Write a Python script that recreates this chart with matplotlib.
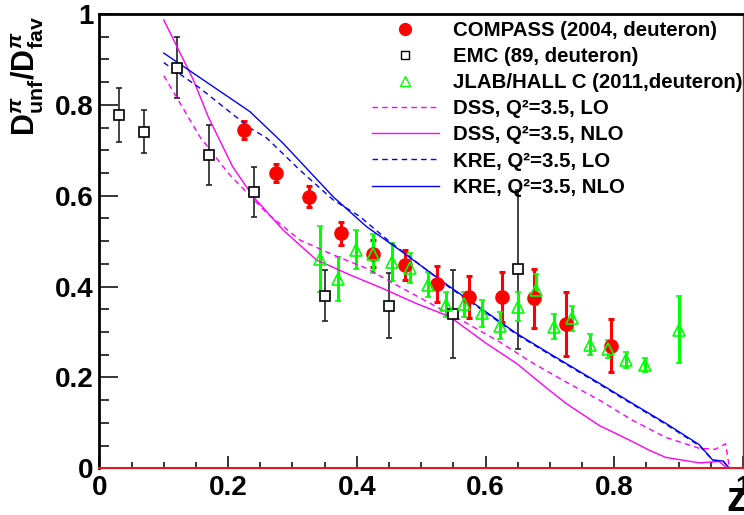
import matplotlib
matplotlib.use('Agg')
import matplotlib.pyplot as plt
from matplotlib.lines import Line2D
from matplotlib.ticker import MultipleLocator, FixedLocator

plt.rcParams['font.family'] = ['Liberation Sans', 'DejaVu Sans']
plt.rcParams['font.weight'] = 'bold'
plt.rcParams['mathtext.fontset'] = 'custom'
plt.rcParams['mathtext.rm'] = 'Liberation Sans:bold'
plt.rcParams['mathtext.bf'] = 'Liberation Sans:bold'
plt.rcParams['mathtext.it'] = 'Liberation Sans:bold:italic'

# data
compass_z = [0.225, 0.275, 0.325, 0.375, 0.425, 0.475, 0.525, 0.575, 0.625, 0.675, 0.725, 0.795]
compass_r = [0.745, 0.650, 0.598, 0.517, 0.472, 0.448, 0.405, 0.377, 0.376, 0.374, 0.318, 0.270]
compass_e = [0.020, 0.020, 0.023, 0.025, 0.030, 0.033, 0.040, 0.047, 0.055, 0.065, 0.070, 0.059]

emc_z = [0.03, 0.07, 0.12, 0.17, 0.24, 0.35, 0.45, 0.55, 0.65]
emc_r = [0.778, 0.741, 0.882, 0.690, 0.608, 0.380, 0.358, 0.339, 0.438]
emc_e = [0.060, 0.047, 0.068, 0.066, 0.055, 0.056, 0.072, 0.097, 0.175]

jlab_z = [0.342, 0.370, 0.398, 0.425, 0.454, 0.482, 0.510, 0.538, 0.566, 0.594,
          0.623, 0.650, 0.679, 0.707, 0.734, 0.762, 0.791, 0.818, 0.847, 0.901]
jlab_r = [0.461, 0.417, 0.481, 0.472, 0.455, 0.440, 0.404, 0.360, 0.361, 0.341,
          0.314, 0.356, 0.393, 0.312, 0.330, 0.272, 0.262, 0.238, 0.227, 0.305]
jlab_e = [0.072, 0.048, 0.043, 0.043, 0.042, 0.033, 0.028, 0.027, 0.028, 0.030,
          0.029, 0.032, 0.034, 0.028, 0.027, 0.023, 0.020, 0.018, 0.016, 0.074]

dss_lo_z = [0.100, 0.104, 0.156, 0.200, 0.234, 0.260, 0.311, 0.363, 0.415, 0.466, 0.518,
            0.570, 0.622, 0.673, 0.725, 0.777, 0.828, 0.880, 0.932, 0.957, 0.973, 0.979, 1.0]
dss_lo_r = [0.864, 0.855, 0.730, 0.650, 0.600, 0.562, 0.503, 0.470, 0.440, 0.400, 0.360,
            0.320, 0.278, 0.232, 0.190, 0.150, 0.106, 0.068, 0.044, 0.042, 0.054, 0.0, 0.0]

dss_nlo_z = [0.100, 0.146, 0.169, 0.207, 0.239, 0.285, 0.337, 0.389, 0.440, 0.492, 0.544,
             0.601, 0.648, 0.699, 0.725, 0.777, 0.828, 0.854, 0.880, 0.932, 0.963, 0.976, 1.0]
dss_nlo_r = [0.987, 0.855, 0.774, 0.664, 0.598, 0.525, 0.459, 0.426, 0.396, 0.363, 0.334,
             0.275, 0.231, 0.172, 0.143, 0.094, 0.059, 0.040, 0.024, 0.012, 0.015, 0.0, 0.0]

kre_lo_z = [0.100, 0.156, 0.234, 0.260, 0.311, 0.363, 0.404, 0.450, 0.544, 0.596, 0.648,
            0.699, 0.777, 0.828, 0.880, 0.932, 0.953, 0.969, 0.979, 1.0]
kre_lo_r = [0.893, 0.837, 0.749, 0.727, 0.657, 0.591, 0.555, 0.500, 0.398, 0.347, 0.295,
            0.251, 0.185, 0.141, 0.097, 0.050, 0.018, 0.016, 0.0, 0.0]

kre_nlo_z = [0.100, 0.207, 0.234, 0.285, 0.363, 0.415, 0.466, 0.544, 0.596, 0.648, 0.699,
             0.777, 0.828, 0.880, 0.932, 0.953, 0.969, 0.979, 1.0]
kre_nlo_r = [0.914, 0.811, 0.785, 0.716, 0.598, 0.532, 0.481, 0.400, 0.349, 0.297, 0.253,
             0.187, 0.143, 0.099, 0.052, 0.018, 0.016, 0.0, 0.0]

fig = plt.figure(figsize=(7.44, 5.15), dpi=100)
ax = fig.add_axes([99.4 / 744, 46.7 / 515, 643.6 / 744, 454.3 / 515])

ax.errorbar(compass_z, compass_r, yerr=compass_e, fmt='o', color='red', ms=9.5,
            elinewidth=2.2, capsize=2.5, capthick=2.2)
ax.errorbar(emc_z, emc_r, yerr=emc_e, fmt='s', mfc='white', mec='black', mew=1.2,
            ms=6.5, color='#222222', elinewidth=1.2, capsize=2.2, capthick=1.2)
ax.errorbar(jlab_z, jlab_r, yerr=jlab_e, fmt='^', mfc='none', mec='#00ff00', mew=1.2,
            ms=8.5, color='#00ff00', elinewidth=2.2, capsize=2.5, capthick=2.2)

ax.plot(dss_lo_z, dss_lo_r, color='#ff00ff', lw=1.0, ls=(0, (4, 3)))
ax.plot(dss_nlo_z, dss_nlo_r, color='#ff00ff', lw=1.0)
ax.plot(kre_lo_z, kre_lo_r, color='#0000ff', lw=1.0, ls=(0, (4, 3)))
ax.plot(kre_nlo_z, kre_nlo_r, color='#0000ff', lw=1.0)

ax.set_xlim(0, 1)
ax.set_ylim(0, 1)
ax.xaxis.set_major_locator(FixedLocator([0, 0.2, 0.4, 0.6, 0.8, 1.0]))
ax.yaxis.set_major_locator(FixedLocator([0, 0.2, 0.4, 0.6, 0.8, 1.0]))
ax.set_xticklabels(['0', '0.2', '0.4', '0.6', '0.8', '1'])
ax.set_yticklabels(['0', '0.2', '0.4', '0.6', '0.8', '1'])
ax.xaxis.set_minor_locator(MultipleLocator(0.05))
ax.yaxis.set_minor_locator(MultipleLocator(0.05))
ax.tick_params(axis='x', which='major', direction='in', length=9, width=1.1, labelsize=20, pad=5)
ax.tick_params(axis='x', which='minor', direction='in', length=4.5, width=1.1)
ax.tick_params(axis='y', which='major', direction='in', length=14, width=1.1, labelsize=20, pad=4)
ax.tick_params(axis='y', which='minor', direction='in', length=7, width=1.1)
for lab in ax.get_xticklabels() + ax.get_yticklabels():
    lab.set_fontweight('bold')

ax.spines['left'].set_linewidth(2.0)
ax.spines['top'].set_linewidth(2.0)
ax.spines['bottom'].set_color('#e8191b')
ax.spines['bottom'].set_linewidth(1.5)
ax.spines['right'].set_color('#c0141a')
ax.spines['right'].set_linewidth(1.0)

fig.text(28 / 744, 1 - 76 / 515, r'$\mathrm{D}^{\pi}_{\mathrm{unf}}/\mathrm{D}^{\pi}_{\mathrm{fav}}$',
         rotation=90, ha='center', va='center', fontsize=22)
fig.text(737 / 744, 1 - 500 / 515, 'z', ha='center', va='center', fontsize=30, fontweight='bold')

handles = [
    Line2D([], [], ls='none', marker='o', color='red', ms=8.5),
    Line2D([], [], ls='none', marker='s', mfc='white', mec='black', mew=1.0, ms=5.5),
    Line2D([], [], ls='none', marker='^', mfc='none', mec='#00ff00', mew=1.0, ms=7.5),
    Line2D([], [], color='#ff00ff', lw=1.0, ls=(0, (4, 3))),
    Line2D([], [], color='#ff00ff', lw=1.0),
    Line2D([], [], color='#0000ff', lw=1.0, ls=(0, (4, 3))),
    Line2D([], [], color='#0000ff', lw=1.0),
]
labels = ['COMPASS (2004, deuteron)', 'EMC (89, deuteron)', 'JLAB/HALL C (2011,deuteron)',
          'DSS, Q²=3.5, LO', 'DSS, Q²=3.5, NLO', 'KRE, Q²=3.5, LO', 'KRE, Q²=3.5, NLO']
leg = ax.legend(handles, labels, loc='upper left', bbox_to_anchor=(0.423, 0.985),
                frameon=False, fontsize=14.7, handlelength=3.28, handletextpad=0.69,
                labelspacing=0.35, borderpad=0, borderaxespad=0)
for t in leg.get_texts():
    t.set_fontweight('bold')

fig.savefig('out.png', dpi=100)
